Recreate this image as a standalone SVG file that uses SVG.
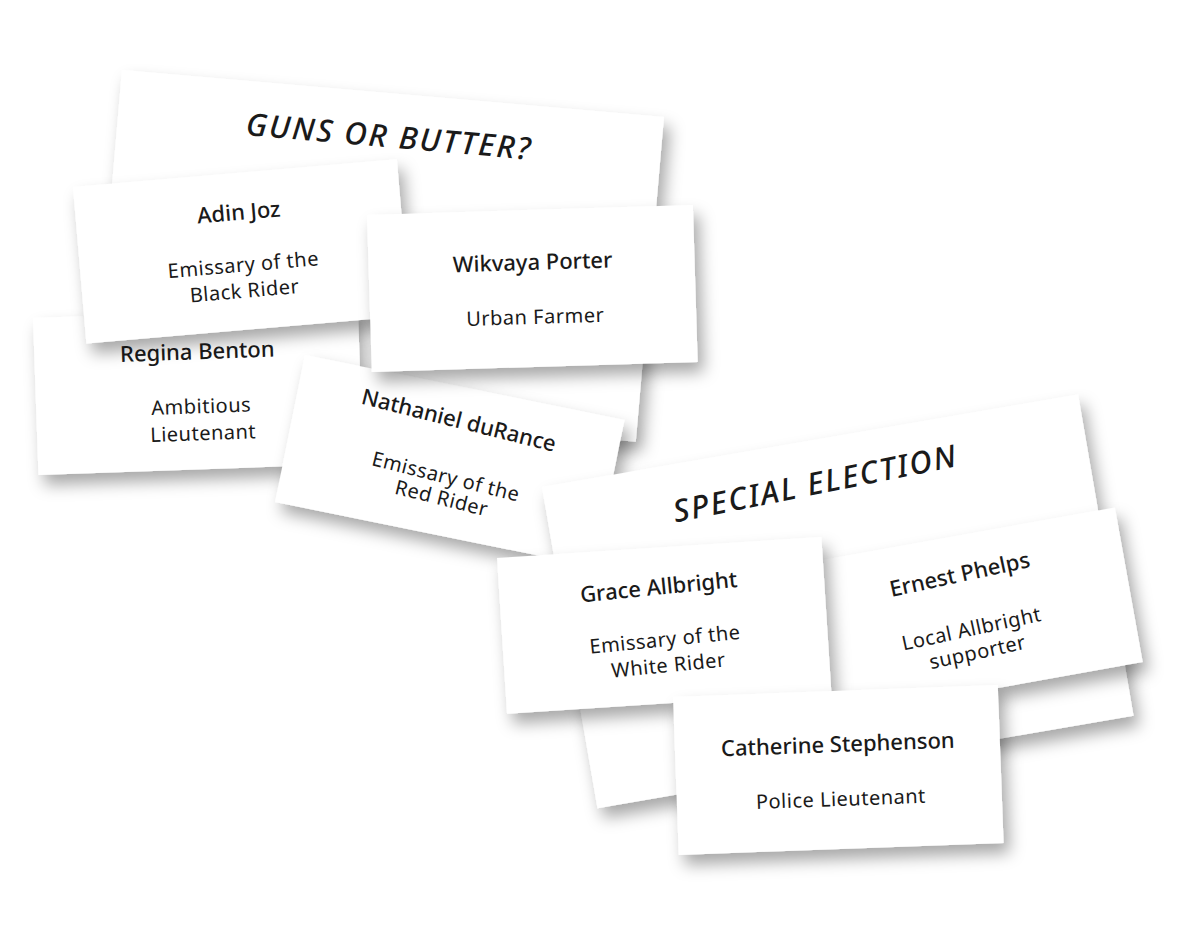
<svg xmlns="http://www.w3.org/2000/svg" width="1200" height="929" viewBox="0 0 1200 929">
<defs>
<filter id="shadow" x="-20%" y="-20%" width="145%" height="150%">
<feDropShadow dx="6" dy="10" stdDeviation="8" flood-color="#000" flood-opacity="0.34"/>
</filter>
</defs>
<style>
.card{fill:#fff}
text{font-family:"Noto Sans","DejaVu Sans",sans-serif;fill:#1a1a1a;text-anchor:middle}
.name{font-size:22px;font-weight:500}
.role{font-size:20px;font-weight:400;letter-spacing:0.5px}
.title{font-size:31px;font-style:italic;font-weight:500;letter-spacing:2px}
</style>
<rect width="1200" height="929" fill="#fff"/>

<g id="card-guns-or-butter">
<g filter="url(#shadow)"><rect class="card" transform="translate(122 70) rotate(4.96)" width="544" height="326"/></g>
<g transform="translate(122 70) rotate(4.96)"><text class="title" x="272" y="54">GUNS OR BUTTER?</text></g>
</g>

<g id="card-regina-benton">
<g filter="url(#shadow)"><rect class="card" transform="translate(33 318) rotate(-2)" width="325" height="157"/></g>
<g transform="translate(33 318) rotate(-2)">
<text class="name" x="163" y="47">Regina Benton</text>
<text class="role" x="165" y="101">Ambitious</text>
<text class="role" x="166" y="128">Lieutenant</text>
</g>
</g>

<g id="card-adin-joz">
<g filter="url(#shadow)"><rect class="card" transform="translate(73 187) rotate(-4.9)" width="325" height="157"/></g>
<g transform="translate(73 187) rotate(-4.9)">
<text class="name" x="163" y="47">Adin Joz</text>
<text class="role" x="163" y="99">Emissary of the</text>
<text class="role" x="162" y="125">Black Rider</text>
</g>
</g>

<g id="card-nathaniel-durance">
<g filter="url(#shadow)"><rect class="card" transform="translate(305 355) rotate(11.5)" width="326" height="150"/></g>
<g transform="translate(305 355) rotate(11.5)">
<g transform="rotate(2.5 163 75)">
<text class="name" x="162" y="41">Nathaniel duRance</text>
<text class="role" x="163" y="98">Emissary of the</text>
<text class="role" x="164" y="120">Red Rider</text>
</g>
</g>
</g>

<g id="card-wikvaya-porter">
<g filter="url(#shadow)"><rect class="card" transform="translate(367 215) rotate(-1.76)" width="326" height="157"/></g>
<g transform="translate(367 215) rotate(-1.76)">
<text class="name" x="164" y="60">Wikvaya Porter</text>
<text class="role" x="165" y="114">Urban Farmer</text>
</g>
</g>

<g id="card-special-election">
<g filter="url(#shadow)"><rect class="card" transform="translate(542 487) rotate(-9.8)" width="544" height="326"/></g>
<g transform="translate(542 487) rotate(-9.8)"><text class="title" x="270" y="54" transform="rotate(-1.5 270 44)">SPECIAL ELECTION</text></g>
</g>

<g id="card-ernest-phelps">
<g filter="url(#shadow)"><rect class="card" transform="translate(795 565) rotate(-10.2)" width="325" height="157"/></g>
<g transform="translate(795 565) rotate(-10.2)">
<g transform="rotate(-2 162 85)">
<text class="name" x="162" y="46">Ernest Phelps</text>
<text class="role" x="162" y="101">Local Allbright</text>
<text class="role" x="163" y="125">supporter</text>
</g>
</g>
</g>

<g id="card-grace-allbright">
<g filter="url(#shadow)"><rect class="card" transform="translate(497 558) rotate(-3.7)" width="325" height="156"/></g>
<g transform="translate(497 558) rotate(-3.7)">
<g transform="rotate(-2 162 85)">
<text class="name" x="161" y="47">Grace Allbright</text>
<text class="role" x="162" y="99">Emissary of the</text>
<text class="role" x="163" y="125">White Rider</text>
</g>
</g>
</g>

<g id="card-catherine-stephenson">
<g filter="url(#shadow)"><rect class="card" transform="translate(673 697) rotate(-2.1)" width="325" height="158"/></g>
<g transform="translate(673 697) rotate(-2.1)">
<text class="name" x="163" y="61">Catherine Stephenson</text>
<text class="role" x="164" y="115">Police Lieutenant</text>
</g>
</g>
</svg>
